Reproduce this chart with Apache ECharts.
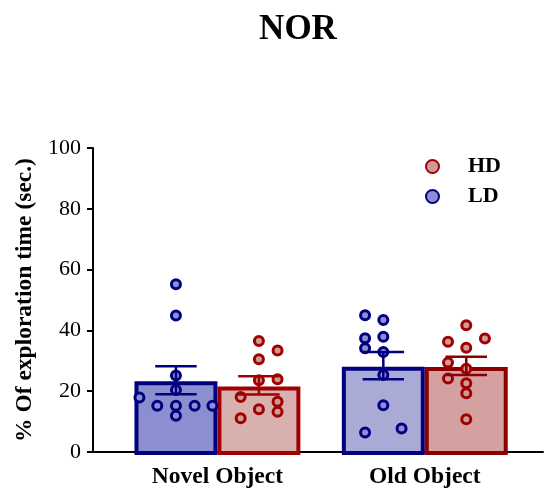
<!DOCTYPE html>
<html>
<head>
<meta charset="utf-8">
<script src="https://cdn.jsdelivr.net/npm/echarts@6/dist/echarts.min.js"></script>
<style>html,body{margin:0;padding:0;background:#fff;}#c{width:546px;height:489px;}</style>
</head>
<body>
<div id="c"></div>
<script>
// ---- data ----
const title = 'NOR';
const categories = ['Novel Object', 'Old Object'];
const yTicks = [0, 20, 40, 60, 80, 100];
const ldMean = [23.6, 28.4];
const ldSem = [4.6, 4.5];
const hdMean = [21.9, 28.3];
const hdSem = [3.0, 3.0];
const ldPoints = [
  [55.2, 44.9, 25.2, 20.4, 17.9, 15.2, 15.2, 15.2, 15.2, 11.9],
  [45.0, 43.4, 37.4, 37.9, 34.1, 32.9, 25.3, 15.4, 7.7, 6.4]
];
const hdPoints = [
  [36.5, 33.4, 30.5, 23.6, 23.9, 18.1, 16.5, 14.1, 13.2, 11.1],
  [41.7, 37.3, 36.3, 34.3, 29.4, 27.4, 24.2, 22.6, 19.3, 10.8]
];

// ---- layout (not data) ----
const groupCenter = [3, 8];
const ldOffset = -1, hdOffset = 1;
const ldJitter = [
  [0, 0, 0, 0, -0.88, -0.45, 0, 0.45, 0.88, 0],
  [-0.44, 0, -0.44, 0, -0.44, 0, 0, 0, 0.44, -0.44]
];
const hdJitter = [
  [0, 0.45, 0, 0, 0.45, -0.44, 0.45, 0, 0.45, -0.44],
  [0, 0.45, -0.44, 0, -0.44, 0, -0.44, 0, 0, 0]
];
const ldFill = ['#8b8fcf', '#a9aad6'];
const hdFill = ['#d8b0ae', '#d4a0a0'];
const ldLine = '#000080';
const hdLine = ['#a00000', '#8b0000'];
const ldDot = '#8c90d0';
const hdDot = '#cf9a9a';
const serif = '"Liberation Serif", "DejaVu Serif", serif';

const barData = [];
const errData = [];
categories.forEach((c, i) => {
  barData.push({value: [groupCenter[i] + ldOffset, ldMean[i]], fill: ldFill[i], line: ldLine});
  barData.push({value: [groupCenter[i] + hdOffset, hdMean[i]], fill: hdFill[i], line: hdLine[i]});
  errData.push({value: [groupCenter[i] + ldOffset, ldMean[i], ldSem[i]], line: ldLine});
  errData.push({value: [groupCenter[i] + hdOffset, hdMean[i], hdSem[i]], line: hdLine[i]});
});
const ldScatter = [], hdScatter = [];
categories.forEach((c, i) => {
  ldPoints[i].forEach((v, j) => ldScatter.push([groupCenter[i] + ldOffset + ldJitter[i][j], v]));
  hdPoints[i].forEach((v, j) => hdScatter.push([groupCenter[i] + hdOffset + hdJitter[i][j], v]));
});

const chart = echarts.init(document.getElementById('c'));
const BW = 4;
chart.setOption({
  animation: false,
  backgroundColor: '#fff',
  title: {
    text: title, left: 293, top: 7, textAlign: 'center',
    textStyle: {fontFamily: serif, fontWeight: 'bold', fontSize: 35, color: '#000'}
  },
  legend: {
    data: ['HD', 'LD'], orient: 'vertical', left: 420, top: 150,
    itemWidth: 13, itemHeight: 13, itemGap: 7,
    textStyle: {fontFamily: serif, fontWeight: 'bold', fontSize: 22, color: '#000', lineHeight: 23, padding: [0, 0, 0, 24]}
  },
  grid: {left: 93, right: 0, top: 148, bottom: 36},
  xAxis: {
    type: 'value', min: 0, max: 10.85, interval: 1,
    axisLine: {show: true, lineStyle: {color: '#000', width: 2}},
    axisTick: {show: false}, splitLine: {show: false},
    axisLabel: {
      margin: 13, fontFamily: serif, fontWeight: 'bold', fontSize: 23.5, color: '#000',
      formatter: v => { const k = groupCenter.indexOf(v); return k >= 0 ? categories[k] : ''; }
    }
  },
  yAxis: {
    type: 'value', min: 0, max: 100, interval: 20,
    name: '% Of exploration time (sec.)', nameLocation: 'middle', nameGap: 56, nameRotate: 90,
    nameTextStyle: {fontFamily: serif, fontWeight: 'bold', fontSize: 23.5, color: '#000'},
    axisLine: {show: true, lineStyle: {color: '#000', width: 2}},
    axisTick: {show: true, length: 6, lineStyle: {color: '#000', width: 2}},
    splitLine: {show: false},
    axisLabel: {margin: 12, fontFamily: serif, fontSize: 22, color: '#000',
      formatter: v => yTicks.indexOf(v) >= 0 ? String(v) : ''}
  },
  series: [
    {
      type: 'custom', name: 'bars', z: 1,
      data: barData,
      renderItem: (params, api) => {
        const d = barData[params.dataIndex];
        const x = api.value(0), v = api.value(1);
        const pL = api.coord([x - 1, v]);
        const pR = api.coord([x + 1, 0]);
        return {
          type: 'rect',
          shape: {x: pL[0] + BW / 2, y: pL[1] + 1 + BW / 2, width: pR[0] - pL[0] - BW, height: pR[1] - pL[1] - BW / 2},
          style: {fill: d.fill, stroke: d.line, lineWidth: BW}
        };
      }
    },
    {
      type: 'scatter', name: 'HD', z: 3, data: hdScatter, symbol: 'circle', symbolSize: 9,
      itemStyle: {color: hdDot, borderColor: '#a00000', borderWidth: 3, opacity: 1}
    },
    {
      type: 'scatter', name: 'LD', z: 3, data: ldScatter, symbol: 'circle', symbolSize: 9,
      itemStyle: {color: ldDot, borderColor: ldLine, borderWidth: 3, opacity: 1}
    },
    {
      type: 'custom', name: 'err', z: 4,
      data: errData,
      renderItem: (params, api) => {
        const d = errData[params.dataIndex];
        const x = api.value(0), m = api.value(1), s = api.value(2);
        const top = api.coord([x, m + s]);
        const bot = api.coord([x, m - s]);
        const cl = api.coord([x - 0.5, m])[0];
        const cr = api.coord([x + 0.5, m])[0];
        const st = {stroke: d.line, lineWidth: 2.5};
        return {
          type: 'group',
          children: [
            {type: 'line', shape: {x1: top[0], y1: top[1], x2: bot[0], y2: bot[1]}, style: st},
            {type: 'line', shape: {x1: cl, y1: top[1], x2: cr, y2: top[1]}, style: st},
            {type: 'line', shape: {x1: cl, y1: bot[1], x2: cr, y2: bot[1]}, style: st}
          ]
        };
      }
    }
  ]
});
</script>
</body>
</html>
